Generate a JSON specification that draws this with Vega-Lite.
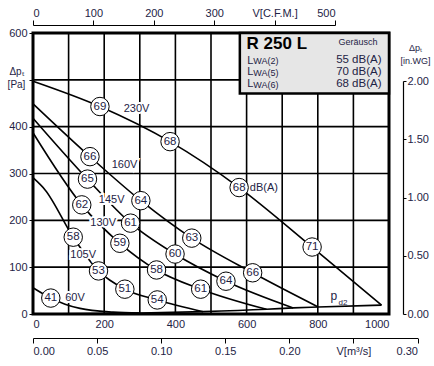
{
  "$schema": "https://vega.github.io/schema/vega-lite/v6.json",
  "width": 356,
  "height": 281,
  "autosize": {"type": "none"},
  "padding": {"left": 33, "top": 33, "right": 45, "bottom": 52},
  "background": "white",
  "config": {
    "font": "Liberation Sans",
    "view": {"stroke": "black", "strokeWidth": 3},
    "axis": {
      "labelFont": "Liberation Sans",
      "labelFontSize": 11,
      "labelColor": "#1e2345",
      "domainColor": "black",
      "tickColor": "black",
      "titleFont": "Liberation Sans",
      "titleFontWeight": "normal",
      "titleColor": "#1e2345"
    }
  },
  "datasets": {
    "grid": [
      {"g": "v100", "q": 100, "p": 0}, {"g": "v100", "q": 100, "p": 600},
      {"g": "v200", "q": 200, "p": 0}, {"g": "v200", "q": 200, "p": 600},
      {"g": "v300", "q": 300, "p": 0}, {"g": "v300", "q": 300, "p": 600},
      {"g": "v400", "q": 400, "p": 0}, {"g": "v400", "q": 400, "p": 600},
      {"g": "v500", "q": 500, "p": 0}, {"g": "v500", "q": 500, "p": 600},
      {"g": "v600", "q": 600, "p": 0}, {"g": "v600", "q": 600, "p": 600},
      {"g": "v700", "q": 700, "p": 0}, {"g": "v700", "q": 700, "p": 600},
      {"g": "v800", "q": 800, "p": 0}, {"g": "v800", "q": 800, "p": 600},
      {"g": "v900", "q": 900, "p": 0}, {"g": "v900", "q": 900, "p": 600},
      {"g": "h100", "q": 0, "p": 100}, {"g": "h100", "q": 1000, "p": 100},
      {"g": "h200", "q": 0, "p": 200}, {"g": "h200", "q": 1000, "p": 200},
      {"g": "h300", "q": 0, "p": 300}, {"g": "h300", "q": 1000, "p": 300},
      {"g": "h400", "q": 0, "p": 400}, {"g": "h400", "q": 1000, "p": 400},
      {"g": "h500", "q": 0, "p": 500}, {"g": "h500", "q": 1000, "p": 500}
    ],
    "curves": [
      {"curve": "230V", "q": 0, "p": 497}, {"curve": "230V", "q": 188, "p": 443}, {"curve": "230V", "q": 385, "p": 368}, {"curve": "230V", "q": 579, "p": 270}, {"curve": "230V", "q": 784, "p": 143}, {"curve": "230V", "q": 979, "p": 19},
      {"curve": "160V", "q": 0, "p": 449}, {"curve": "160V", "q": 160, "p": 336}, {"curve": "160V", "q": 303, "p": 242}, {"curve": "160V", "q": 446, "p": 162}, {"curve": "160V", "q": 617, "p": 88}, {"curve": "160V", "q": 801, "p": 15},
      {"curve": "145V", "q": 0, "p": 418}, {"curve": "145V", "q": 153, "p": 288}, {"curve": "145V", "q": 274, "p": 194}, {"curve": "145V", "q": 399, "p": 128}, {"curve": "145V", "q": 542, "p": 70}, {"curve": "145V", "q": 731, "p": 13},
      {"curve": "130V", "q": 0, "p": 387}, {"curve": "130V", "q": 137, "p": 233}, {"curve": "130V", "q": 244, "p": 151}, {"curve": "130V", "q": 347, "p": 94}, {"curve": "130V", "q": 471, "p": 53}, {"curve": "130V", "q": 656, "p": 10},
      {"curve": "105V", "q": 0, "p": 291}, {"curve": "105V", "q": 34, "p": 265}, {"curve": "105V", "q": 113, "p": 164}, {"curve": "105V", "q": 184, "p": 92}, {"curve": "105V", "q": 258, "p": 53}, {"curve": "105V", "q": 349, "p": 30}, {"curve": "105V", "q": 478, "p": 5},
      {"curve": "60V", "q": 0, "p": 56}, {"curve": "60V", "q": 50, "p": 34}, {"curve": "60V", "q": 90, "p": 21}, {"curve": "60V", "q": 132, "p": 12}, {"curve": "60V", "q": 225, "p": 4}, {"curve": "60V", "q": 300, "p": 2},
      {"curve": "pd2", "q": 0, "p": 0}, {"curve": "pd2", "q": 300, "p": 2}, {"curve": "pd2", "q": 478, "p": 5}, {"curve": "pd2", "q": 656, "p": 10}, {"curve": "pd2", "q": 731, "p": 13}, {"curve": "pd2", "q": 801, "p": 15}, {"curve": "pd2", "q": 979, "p": 19}
    ],
    "marks": [
      {"q": 188, "p": 443, "t": "69"}, {"q": 385, "p": 368, "t": "68"}, {"q": 579, "p": 270, "t": "68"}, {"q": 784, "p": 143, "t": "71"},
      {"q": 160, "p": 336, "t": "66"}, {"q": 303, "p": 242, "t": "64"}, {"q": 446, "p": 162, "t": "63"}, {"q": 617, "p": 88, "t": "66"},
      {"q": 153, "p": 288, "t": "65"}, {"q": 274, "p": 194, "t": "61"}, {"q": 399, "p": 128, "t": "60"}, {"q": 542, "p": 70, "t": "64"},
      {"q": 137, "p": 233, "t": "62"}, {"q": 244, "p": 151, "t": "59"}, {"q": 347, "p": 94, "t": "58"}, {"q": 471, "p": 53, "t": "61"},
      {"q": 113, "p": 164, "t": "58"}, {"q": 184, "p": 92, "t": "53"}, {"q": 258, "p": 53, "t": "51"}, {"q": 349, "p": 30, "t": "54"},
      {"q": 50, "p": 34, "t": "41"}
    ],
    "volts": [
      {"q": 291, "p": 438, "t": "230V"}, {"q": 257, "p": 318, "t": "160V"}, {"q": 221, "p": 244, "t": "145V"},
      {"q": 197, "p": 194, "t": "130V"}, {"q": 141, "p": 127, "t": "105V"}, {"q": 118, "p": 34, "t": "60V"}
    ],
    "dba": [{"q": 609, "p": 269, "t": "dB(A)"}],
    "pbig": [{"q": 845, "p": 30, "t": "p"}],
    "psub": [{"q": 858, "p": 19, "t": "d2"}],
    "box": [{"q1": 581, "q2": 1000, "p1": 471, "p2": 600}],
    "boxTitle": [{"q": 600, "p": 577, "t": "R 250 L"}],
    "boxSmall": [{"q": 913, "p": 581, "t": "Geräusch"}],
    "boxL": [{"q": 602, "p": 541, "t": "L"}, {"q": 602, "p": 516, "t": "L"}, {"q": 602, "p": 491, "t": "L"}],
    "boxWA": [{"q": 619, "p": 540, "t": "WA(2)"}, {"q": 619, "p": 515, "t": "WA(5)"}, {"q": 619, "p": 490, "t": "WA(6)"}],
    "boxR": [{"q": 979, "p": 542, "t": "55 dB(A)"}, {"q": 979, "p": 517, "t": "70 dB(A)"}, {"q": 979, "p": 491, "t": "68 dB(A)"}],
    "aux1": [{"cfm": 0, "inwg": 0}, {"cfm": 500, "inwg": 2}],
    "aux2": [{"m3s": 0}, {"m3s": 0.3}]
  },
  "layer": [
    {
      "layer": [
        {
          "data": {"name": "curves"},
          "mark": {"type": "line", "interpolate": "monotone", "color": "black", "strokeWidth": 1.6},
          "encoding": {
            "x": {"field": "q", "type": "quantitative", "scale": {"domain": [0, 1000], "nice": false},
              "axis": {"orient": "bottom", "values": [0, 100, 200, 300, 400, 500, 600, 700, 800, 900, 1000], "format": "d",
                "labelExpr": "datum.value == 900 ? 'V[m³/h]' : datum.label", "title": null,
                "grid": false, "ticks": false, "domain": false, "labelPadding": 4}},
            "y": {"field": "p", "type": "quantitative", "scale": {"domain": [0, 600], "nice": false},
              "axis": {"orient": "left", "values": [0, 100, 200, 300, 400, 500, 600],
                "labelExpr": "datum.value == 500 ? '' : datum.label",
                "grid": false, "ticks": true, "tickSize": 4, "domain": false, "labelPadding": 2,
                "title": ["Δpₜ", "[Pa]"], "titleAngle": 0, "titleX": -17, "titleY": 33, "titleAlign": "center", "titleBaseline": "top", "titleFontSize": 10, "titleLineHeight": 13}},
            "detail": {"field": "curve"},
            "order": {"field": "q"}
          }
        },
        {
          "data": {"name": "grid"},
          "mark": {"type": "line", "color": "black", "strokeWidth": 1.6},
          "encoding": {
            "x": {"field": "q", "type": "quantitative"},
            "y": {"field": "p", "type": "quantitative"},
            "detail": {"field": "g"}
          }
        },
        {
          "data": {"name": "marks"},
          "mark": {"type": "point", "shape": "circle", "filled": true, "fill": "white", "stroke": "black", "strokeWidth": 1, "size": 340, "opacity": 1},
          "encoding": {"x": {"field": "q", "type": "quantitative"}, "y": {"field": "p", "type": "quantitative"}}
        },
        {
          "data": {"name": "marks"},
          "mark": {"type": "text", "fontSize": 11.5, "color": "#1e2345", "align": "center", "baseline": "middle"},
          "encoding": {"x": {"field": "q", "type": "quantitative"}, "y": {"field": "p", "type": "quantitative"}, "text": {"field": "t"}}
        },
        {
          "data": {"name": "volts"},
          "mark": {"type": "text", "fontSize": 11, "color": "white", "stroke": "white", "strokeWidth": 4, "align": "center", "baseline": "middle"},
          "encoding": {"x": {"field": "q", "type": "quantitative"}, "y": {"field": "p", "type": "quantitative"}, "text": {"field": "t"}}
        },
        {
          "data": {"name": "volts"},
          "mark": {"type": "text", "fontSize": 11, "color": "#1e2345", "align": "center", "baseline": "middle"},
          "encoding": {"x": {"field": "q", "type": "quantitative"}, "y": {"field": "p", "type": "quantitative"}, "text": {"field": "t"}}
        },
        {
          "data": {"name": "dba"},
          "mark": {"type": "text", "fontSize": 11, "color": "#1e2345", "align": "left", "baseline": "middle"},
          "encoding": {"x": {"field": "q", "type": "quantitative"}, "y": {"field": "p", "type": "quantitative"}, "text": {"field": "t"}}
        },
        {
          "data": {"name": "pbig"},
          "mark": {"type": "text", "fontSize": 12, "color": "#1e2345", "align": "center", "baseline": "alphabetic"},
          "encoding": {"x": {"field": "q", "type": "quantitative"}, "y": {"field": "p", "type": "quantitative"}, "text": {"field": "t"}}
        },
        {
          "data": {"name": "psub"},
          "mark": {"type": "text", "fontSize": 8, "color": "#1e2345", "align": "left", "baseline": "alphabetic"},
          "encoding": {"x": {"field": "q", "type": "quantitative"}, "y": {"field": "p", "type": "quantitative"}, "text": {"field": "t"}}
        },
        {
          "data": {"name": "box"},
          "mark": {"type": "rect", "fill": "#e6e6e6", "stroke": "black", "strokeWidth": 2.5},
          "encoding": {
            "x": {"field": "q1", "type": "quantitative"}, "x2": {"field": "q2"},
            "y": {"field": "p1", "type": "quantitative"}, "y2": {"field": "p2"}
          }
        },
        {
          "data": {"name": "boxTitle"},
          "mark": {"type": "text", "fontSize": 17, "fontWeight": "bold", "color": "black", "align": "left", "baseline": "middle"},
          "encoding": {"x": {"field": "q", "type": "quantitative"}, "y": {"field": "p", "type": "quantitative"}, "text": {"field": "t"}}
        },
        {
          "data": {"name": "boxSmall"},
          "mark": {"type": "text", "fontSize": 9, "color": "#1e2345", "align": "center", "baseline": "middle"},
          "encoding": {"x": {"field": "q", "type": "quantitative"}, "y": {"field": "p", "type": "quantitative"}, "text": {"field": "t"}}
        },
        {
          "data": {"name": "boxL"},
          "mark": {"type": "text", "fontSize": 11, "color": "#1e2345", "align": "left", "baseline": "middle"},
          "encoding": {"x": {"field": "q", "type": "quantitative"}, "y": {"field": "p", "type": "quantitative"}, "text": {"field": "t"}}
        },
        {
          "data": {"name": "boxWA"},
          "mark": {"type": "text", "fontSize": 9, "color": "#1e2345", "align": "left", "baseline": "middle"},
          "encoding": {"x": {"field": "q", "type": "quantitative"}, "y": {"field": "p", "type": "quantitative"}, "text": {"field": "t"}}
        },
        {
          "data": {"name": "boxR"},
          "mark": {"type": "text", "fontSize": 11.5, "color": "#1e2345", "align": "right", "baseline": "middle"},
          "encoding": {"x": {"field": "q", "type": "quantitative"}, "y": {"field": "p", "type": "quantitative"}, "text": {"field": "t"}}
        }
      ]
    },
    {
      "data": {"name": "aux1"},
      "mark": {"type": "point", "opacity": 0},
      "encoding": {
        "x": {"field": "cfm", "type": "quantitative", "scale": {"domain": [0, 500], "range": [0, 302], "nice": false},
          "axis": {"orient": "top", "offset": 8, "values": [0, 100, 200, 300, 400, 500],
            "labelExpr": "datum.value == 400 ? 'V[C.F.M.]' : datum.label", "title": null, "grid": false,
            "tickSize": 5, "domain": true, "domainWidth": 1.2, "labelPadding": 2}},
        "y": {"field": "inwg", "type": "quantitative", "scale": {"domain": [0, 2], "range": [281, 48], "nice": false},
          "axis": {"orient": "right", "offset": 14, "values": [0, 0.5, 1, 1.5, 2], "format": ".2f", "grid": false,
            "tickSize": 3, "domain": true, "domainWidth": 1.2, "labelPadding": 1,
            "title": ["Δpₜ", "[in.WG]"], "titleAngle": 0, "titleX": 12, "titleY": 10, "titleAlign": "center", "titleBaseline": "top", "titleFontSize": 9, "titleLineHeight": 13}}
      }
    },
    {
      "data": {"name": "aux2"},
      "mark": {"type": "point", "opacity": 0},
      "encoding": {
        "x": {"field": "m3s", "type": "quantitative", "scale": {"domain": [0, 0.3], "range": [0, 384.5], "nice": false},
          "axis": {"orient": "bottom", "offset": 24, "values": [0, 0.05, 0.1, 0.15, 0.2, 0.25, 0.3], "format": ".2f",
            "labelExpr": "datum.value > 0.24 && datum.value < 0.26 ? 'V[m³/s]' : datum.label", "title": null, "grid": false,
            "tickSize": 5, "domain": true, "domainWidth": 1.2, "labelPadding": 2}}
      }
    }
  ],
  "resolve": {"scale": {"x": "independent", "y": "independent"}, "axis": {"x": "independent", "y": "independent"}}
}
